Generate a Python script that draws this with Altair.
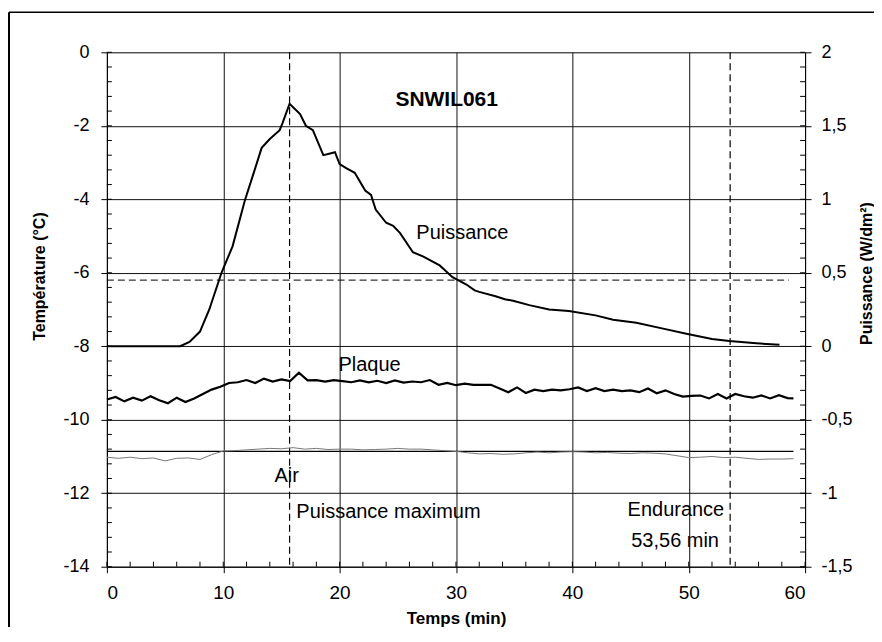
import altair as alt
import pandas as pd

# ---------------- data ----------------
puis_t = [0, 6.3, 7.1, 8.0, 8.8, 9.85, 10.8, 11.85, 12.7, 13.3, 14.0, 14.85, 15.1, 15.7,
          16.6, 17.1, 17.7, 18.6, 19.1, 19.6, 20.0, 20.6, 21.3, 22.2, 22.7, 23.1, 24.0,
          24.6, 25.2, 26.3, 27.2, 28.6, 29.7, 30.9, 31.6, 32.0, 33.4, 34.2, 34.9, 36.3,
          38.0, 39.7, 42.0, 43.5, 45.5, 47.8, 49.8, 52.0, 53.5, 55.8, 57.8]
puis_P = [0, 0, 0.03, 0.10, 0.25, 0.50, 0.68, 0.99, 1.20, 1.35, 1.41, 1.47, 1.52, 1.65,
          1.58, 1.50, 1.47, 1.30, 1.31, 1.32, 1.24, 1.21, 1.18, 1.06, 1.03, 0.93, 0.84,
          0.82, 0.77, 0.64, 0.61, 0.55, 0.47, 0.42, 0.38, 0.37, 0.34, 0.32, 0.31, 0.28,
          0.25, 0.24, 0.21, 0.18, 0.16, 0.12, 0.085, 0.05, 0.035, 0.02, 0.01]

plaque_t = [0, 0.75, 1.5, 2.25, 3, 3.75, 4.5, 5.25, 6, 6.75, 7.5, 8.25, 9, 9.75, 10.5,
            11.25, 12, 12.75, 13.5, 14.25, 15, 15.75, 16.5, 17.25, 18, 18.75, 19.5, 20.25,
            21, 21.75, 22.5, 23.25, 24, 24.75, 25.5, 26.25, 27, 27.75, 28.5, 29.25, 30,
            30.75, 31.5, 32.25, 33, 33.75, 34.5, 35.25, 36, 36.75, 37.5, 38.25, 39, 39.75,
            40.5, 41.25, 42, 42.75, 43.5, 44.25, 45, 45.75, 46.5, 47.25, 48, 48.75, 49.5,
            50.25, 51, 51.75, 52.5, 53.25, 54, 54.75, 55.5, 56.25, 57, 57.75, 58.5, 59]
plaque_T = [-9.45, -9.38, -9.50, -9.40, -9.48, -9.36, -9.47, -9.55, -9.40, -9.52, -9.42,
            -9.30, -9.18, -9.10, -9.00, -8.98, -8.92, -9.00, -8.88, -8.96, -8.90, -8.95,
            -8.72, -8.93, -8.92, -8.96, -8.92, -8.95, -8.98, -8.93, -8.98, -8.94, -9.00,
            -8.93, -8.99, -8.96, -8.98, -8.92, -9.05, -9.00, -9.06, -9.02, -9.05, -9.05,
            -9.05, -9.15, -9.25, -9.12, -9.27, -9.18, -9.22, -9.18, -9.20, -9.17, -9.12,
            -9.22, -9.14, -9.22, -9.18, -9.22, -9.20, -9.25, -9.15, -9.28, -9.20, -9.30,
            -9.37, -9.35, -9.34, -9.42, -9.30, -9.42, -9.30, -9.36, -9.40, -9.34, -9.42,
            -9.33, -9.41, -9.42]

air_t = list(range(0, 60))
air_T = [-11.02, -11.05, -11.02, -11.06, -11.04, -11.12, -11.05, -11.04, -11.08, -10.95,
         -10.85, -10.84, -10.82, -10.80, -10.78, -10.79, -10.76, -10.80, -10.78, -10.81,
         -10.80, -10.80, -10.82, -10.81, -10.80, -10.78, -10.80, -10.80, -10.82, -10.84,
         -10.86, -10.90, -10.93, -10.92, -10.94, -10.93, -10.90, -10.88, -10.90, -10.88,
         -10.87, -10.88, -10.90, -10.89, -10.91, -10.92, -10.90, -10.91, -10.93, -10.98,
         -11.03, -11.02, -11.00, -11.03, -11.02, -11.05, -11.08, -11.07, -11.07, -11.06]

t_max_power = 15.7
t_endurance = 53.56
h_dashed_T = -6.2
h_dashed_end = 58.6
h_solid_T = -10.86
h_solid_end = 59.0

x_ticks = [0, 10, 20, 30, 40, 50, 60]
T_ticks = [-14, -12, -10, -8, -6, -4, -2, 0]
P_ticks = [-1.5, -1, -0.5, 0, 0.5, 1, 1.5, 2]

labels = [
    {"t": 29.2, "T": -1.3, "text": "SNWIL061"},
    {"t": 30.55, "T": -4.92, "text": "Puissance"},
    {"t": 22.57, "T": -8.51, "text": "Plaque"},
    {"t": 15.45, "T": -11.52, "text": "Air"},
]
label_pmax = {"t": 16.28, "T": -12.5, "text": "Puissance maximum"}
label_end1 = {"t": 53.05, "T": -12.45, "text": "Endurance"}
label_end2 = {"t": 52.6, "T": -13.29, "text": "53,56 min"}

# ---------------- layout ----------------
W, H = 699, 515
FONT = "Liberation Sans"

xs = alt.Scale(domain=[0, 60], nice=False, zero=False)
sT = alt.Scale(domain=[-14, 0], nice=False, zero=False)
sP = alt.Scale(domain=[-1.5, 2], nice=False, zero=False)

x_axis = alt.Axis(values=x_ticks, grid=True, gridColor="#111", gridWidth=1,
                  domainColor="black", tickColor="black", tickSize=6,
                  labelFont=FONT, labelFontSize=19, labelColor="black", labelPadding=11,
                  labelExpr="datum.value + ''",
                  title="Temps (min)", titleFont=FONT, titleFontSize=17,
                  titleFontWeight="bold", titleColor="black",
                  titleY=52, titleBaseline="middle")
T_axis = alt.Axis(values=T_ticks, grid=True, gridColor="#111", gridWidth=1,
                  domainColor="black", tickColor="black", tickSize=6,
                  labelFont=FONT, labelFontSize=18, labelColor="black", labelPadding=12,
                  labelExpr="datum.value + ''",
                  title="Température (°C)", titleFont=FONT, titleFontSize=16,
                  titleFontWeight="bold", titleColor="black",
                  titleX=-67, titleY=224, titleAngle=270,
                  titleAlign="center", titleBaseline="middle")
P_axis = alt.Axis(orient="right", values=P_ticks, grid=False,
                  domainColor="black", tickColor="black", tickSize=6,
                  labelFont=FONT, labelFontSize=18, labelColor="black", labelPadding=10,
                  labelExpr="replace(datum.value + '', '.', ',')",
                  title="Puissance (W/dm²)", titleFont=FONT, titleFontSize=16,
                  titleFontWeight="bold", titleColor="black",
                  titleX=61, titleY=221, titleAngle=270,
                  titleAlign="center", titleBaseline="middle")

X = lambda f="t": alt.X(f"{f}:Q", scale=xs, axis=x_axis)
YT = lambda f="T": alt.Y(f"{f}:Q", scale=sT, axis=T_axis)
YP = lambda f="P": alt.Y(f"{f}:Q", scale=sP, axis=P_axis)

df_p = pd.DataFrame({"t": puis_t, "P": puis_P})
df_pl = pd.DataFrame({"t": plaque_t, "T": plaque_T})
df_air = pd.DataFrame({"t": air_t, "T": air_T})

plaque = alt.Chart(df_pl).mark_line(color="black", strokeWidth=2.2).encode(x=X(), y=YT())
air = alt.Chart(df_air).mark_line(color="#777", strokeWidth=1).encode(x=X(), y=YT())

hlines = pd.DataFrame({"t0": [0, 0], "t1": [h_dashed_end, h_solid_end],
                       "T": [h_dashed_T, h_solid_T], "kind": ["dash", "solid"]})
h_dash = alt.Chart(hlines[hlines.kind == "dash"]).mark_rule(
    color="black", strokeWidth=1, strokeDash=[7, 4]).encode(
    x=X("t0"), x2="t1:Q", y=YT())
h_solid = alt.Chart(hlines[hlines.kind == "solid"]).mark_rule(
    color="black", strokeWidth=1.3).encode(x=X("t0"), x2="t1:Q", y=YT())

vlines = pd.DataFrame({"t": [t_max_power, t_endurance]})
v_dash = alt.Chart(vlines).mark_rule(color="black", strokeWidth=1.2,
                                     strokeDash=[7, 4]).encode(x=X())

# inward minor ticks
left_minor = pd.DataFrame({"T": [round(-14 + 0.4 * i, 2) for i in range(36)]})
bottom_minor = pd.DataFrame({"t": list(range(0, 61, 2))})
right_minor = pd.DataFrame({"P": [round(-1.5 + 0.1 * i, 2) for i in range(36)]})

lm = alt.Chart(left_minor).mark_rule(color="black", strokeWidth=1).encode(
    y=YT(), x=alt.value(0), x2=alt.value(5))
bm = alt.Chart(bottom_minor).mark_rule(color="black", strokeWidth=1).encode(
    x=X(), y=alt.value(H - 5), y2=alt.value(H))
rm = alt.Chart(right_minor).mark_rule(color="black", strokeWidth=1).encode(
    y=YP(), x=alt.value(W - 5), x2=alt.value(W))

txt_main = []
for i, d in enumerate(labels):
    bold = d["text"] == "SNWIL061"
    txt_main.append(
        alt.Chart(pd.DataFrame([d])).mark_text(
            font=FONT, fontSize=21 if bold else 20,
            fontWeight="bold" if bold else "normal",
            align="center", baseline="middle", color="black").encode(
            x=X(), y=YT(), text="text:N"))
txt_pmax = alt.Chart(pd.DataFrame([label_pmax])).mark_text(
    font=FONT, fontSize=20, align="left", baseline="middle", color="black").encode(
    x=X(), y=YT(), text="text:N")
txt_end = alt.Chart(pd.DataFrame([label_end1, label_end2])).mark_text(
    font=FONT, fontSize=20, align="right", baseline="middle", color="black").encode(
    x=X(), y=YT(), text="text:N")

# outer frame of the figure
frame_v = alt.Chart(pd.DataFrame({"a": [0]})).mark_rule(color="black", strokeWidth=2).encode(
    x=alt.value(-98), y=alt.value(-40), y2=alt.value(H + 90))
frame_h = alt.Chart(pd.DataFrame({"a": [0]})).mark_rule(color="black", strokeWidth=1.5).encode(
    x=alt.value(-98), x2=alt.value(W + 90), y=alt.value(-40))

left_group = alt.layer(h_dash, h_solid, v_dash, air, plaque, lm, bm,
                       *txt_main, txt_pmax, txt_end, frame_v, frame_h)

puis = alt.Chart(df_p).mark_line(color="black", strokeWidth=2).encode(x=X(), y=YP())
right_group = alt.layer(puis, rm)

chart = alt.layer(left_group, right_group).resolve_scale(y="independent").properties(
    width=W, height=H,
    autosize=alt.AutoSizeParams(type="none"),
    padding={"left": 99, "top": 44, "right": 69, "bottom": 60},
).configure_view(stroke="black", strokeWidth=1.2).configure(background="white")

chart.save("out.html", embed_options={"renderer": "svg", "actions": False})
